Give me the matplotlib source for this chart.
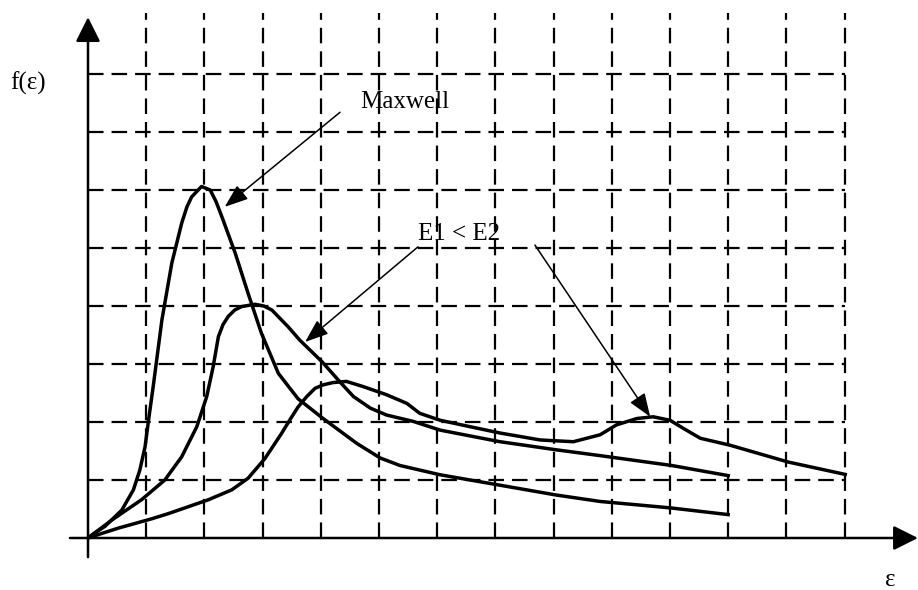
import numpy as np
import matplotlib.pyplot as plt

# energy distribution sketch, grid units (one cell = 1)
maxwell_x = [0, 0.12, 0.29, 0.58, 0.78, 0.89, 0.98, 1.04, 1.12, 1.27, 1.44, 1.61, 1.70, 1.78, 1.95, 2.10,
             2.20, 2.30, 2.53, 2.75, 2.98, 3.27, 3.47, 3.61, 4.04, 4.62, 5.02, 5.36, 6.05, 7.08, 8.05,
             8.80, 10.0, 11.03]
maxwell_y = [0, 0.09, 0.20, 0.48, 0.83, 1.17, 1.57, 2.03, 2.61, 3.76, 4.74, 5.43, 5.71, 5.88, 6.06, 6.0,
             5.80, 5.54, 4.91, 4.22, 3.53, 2.84, 2.58, 2.40, 2.06, 1.63, 1.38, 1.25, 1.09, 0.91, 0.74,
             0.63, 0.52, 0.40]

e1_x = [0, 0.41, 0.92, 1.32, 1.61, 1.87, 2.04, 2.15, 2.24, 2.32, 2.41, 2.52, 2.64, 2.87, 3.02, 3.16,
        3.44, 3.64, 4.02, 4.33, 4.56, 4.85, 5.13, 5.59, 6.05, 7.08, 8.05, 8.80, 10.03, 11.03]
e1_y = [0, 0.31, 0.66, 1.0, 1.40, 1.92, 2.44, 2.95, 3.47, 3.68, 3.82, 3.93, 3.99, 4.03, 4.0, 3.93,
        3.64, 3.41, 3.04, 2.69, 2.44, 2.24, 2.12, 2.01, 1.86, 1.66, 1.52, 1.42, 1.25, 1.07]

e2_x = [0, 0.18, 0.52, 1.09, 1.38, 2.07, 2.47, 2.75, 3.04, 3.33, 3.47, 3.61, 3.76, 3.90, 4.04, 4.21,
        4.44, 4.73, 5.13, 5.48, 5.70, 6.05, 6.56, 7.08, 7.77, 8.34, 8.80, 9.08, 9.43, 9.71, 10.0,
        10.23, 10.52, 11.03, 12.03, 13.04]
e2_y = [0, 0.06, 0.17, 0.33, 0.42, 0.66, 0.83, 1.03, 1.37, 1.81, 2.04, 2.26, 2.44, 2.58, 2.64, 2.68,
        2.70, 2.61, 2.47, 2.32, 2.15, 2.03, 1.92, 1.81, 1.69, 1.66, 1.78, 1.95, 2.06, 2.09, 2.03,
        1.89, 1.72, 1.60, 1.31, 1.09]

grid_x = list(range(1, 14))
grid_y = list(range(1, 9))

plt.rcParams['font.family'] = ['Liberation Serif', 'DejaVu Serif']

fig = plt.figure(figsize=(9.18, 5.9), dpi=100)
ax = fig.add_axes([0, 0, 1, 1])
ax.set_xlim(-88/58.2, (918-88)/58.2)
ax.set_ylim(-(590-538)/58., 538/58.)
ax.axis('off')

# dashed grid
dash = (7, 3.6)
for gx in grid_x:
    ax.plot([gx, gx], [0, 9.05], color='black', lw=1.6, dashes=dash)
for gy in grid_y:
    ax.plot([0, 13], [gy, gy], color='black', lw=1.6, dashes=dash)

# axes with arrows
axarrow = dict(arrowstyle='-|>,head_length=1.0,head_width=0.5', lw=1.8,
               color='black', mutation_scale=15, shrinkA=0, shrinkB=0)
ax.annotate('', xy=(0, 8.98), xytext=(0, -0.33), arrowprops=axarrow)
ax.annotate('', xy=(14.26, 0), xytext=(-0.31, 0), arrowprops=axarrow)

# the curves
for cx, cy in [(maxwell_x, maxwell_y), (e1_x, e1_y), (e2_x, e2_y)]:
    ax.plot(cx, cy, color='black', lw=2.5, solid_joinstyle='round', solid_capstyle='butt')

# labels and pointers
ax.text(-1.34, 7.84, 'f(\u03b5)', fontsize=18, ha='left', va='center')
ax.text(13.78, -0.72, '\u03b5', fontsize=18, ha='center', va='center')
ax.text(4.67, 7.41, 'Maxwell', fontsize=18, ha='left', va='baseline')
ax.text(5.67, 5.14, 'E1 < E2', fontsize=18, ha='left', va='baseline')

arrow = dict(arrowstyle='-|>,head_length=0.8,head_width=0.3', lw=1.1, color='black',
             mutation_scale=18, shrinkA=0, shrinkB=0)
ax.annotate('', xy=(2.35, 5.71), xytext=(4.33, 7.34), arrowprops=arrow)
ax.annotate('', xy=(3.73, 3.38), xytext=(5.67, 5.02), arrowprops=arrow)
ax.annotate('', xy=(9.66, 2.09), xytext=(7.68, 5.05), arrowprops=arrow)

plt.savefig('out.png', dpi=100, facecolor='white')
